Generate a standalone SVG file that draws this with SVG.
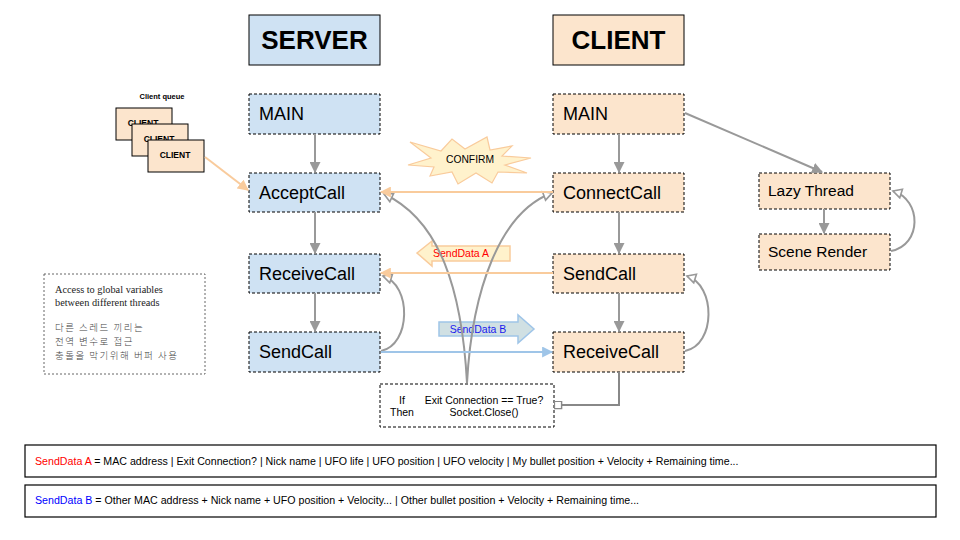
<svg xmlns="http://www.w3.org/2000/svg" width="960" height="540" viewBox="0 0 960 540">
<style>
.t{font-family:"Liberation Sans",Arial,sans-serif;fill:#000}
.title{font-size:26px;font-weight:bold;text-anchor:middle}
.srv{fill:#cfe2f3}
.cli{fill:#fce5cd}
.node{stroke:#000;stroke-width:1;stroke-dasharray:3,2}
.big{font-size:18px}
.mid{font-size:15.5px}
.g{fill:none;stroke:#999;stroke-width:2}
.o{fill:none;stroke:#f9cb9c;stroke-width:2}
.b{fill:none;stroke:#9fc5e8;stroke-width:2}
.small{font-size:10.5px}
</style>
<defs>
<marker id="ag" viewBox="0 0 10 10" refX="9" refY="5" markerWidth="11" markerHeight="11" markerUnits="userSpaceOnUse" orient="auto"><path d="M0,0 L10,5 L0,10 z" fill="#999"/></marker>
<marker id="ao" viewBox="0 0 10 10" refX="9" refY="5" markerWidth="11" markerHeight="11" markerUnits="userSpaceOnUse" orient="auto"><path d="M0,0 L10,5 L0,10 z" fill="#f9cb9c"/></marker>
<marker id="ab" viewBox="0 0 10 10" refX="9" refY="5" markerWidth="11" markerHeight="11" markerUnits="userSpaceOnUse" orient="auto"><path d="M0,0 L10,5 L0,10 z" fill="#9fc5e8"/></marker>
<marker id="aw" viewBox="0 0 12 12" refX="10" refY="6" markerWidth="12" markerHeight="12" markerUnits="userSpaceOnUse" orient="auto"><path d="M1.5,1.5 L10,6 L1.5,10.5 z" fill="#fff" stroke="#999" stroke-width="1.6"/></marker>
<marker id="sq" viewBox="0 0 10 10" refX="5" refY="5" markerWidth="9" markerHeight="9" markerUnits="userSpaceOnUse" orient="auto"><rect x="1" y="1" width="8" height="8" fill="#fff" stroke="#888" stroke-width="1.6"/></marker>
</defs>
<rect width="960" height="540" fill="#fff"/>

<g id="server-title"><rect x="249" y="15" width="131" height="50" class="srv" stroke="#000" stroke-width="1"/><text x="314.5" y="49" class="t title">SERVER</text></g>
<g id="client-title"><rect x="553" y="15" width="131" height="50" class="cli" stroke="#000" stroke-width="1"/><text x="618.5" y="49" class="t title">CLIENT</text></g>

<g id="client-queue">
<text x="162" y="99" class="t" font-size="7.5" font-weight="bold" text-anchor="middle">Client queue</text>
<rect x="116" y="108" width="56" height="32" class="cli" stroke="#000" stroke-width="1"/><text x="143" y="126" class="t" font-size="8.5" font-weight="bold" text-anchor="middle">CLIENT</text>
<rect x="132" y="124" width="56" height="32" class="cli" stroke="#000" stroke-width="1"/><text x="159" y="142" class="t" font-size="8.5" font-weight="bold" text-anchor="middle">CLIENT</text>
<rect x="148" y="140" width="56" height="32" class="cli" stroke="#000" stroke-width="1"/><text x="175" y="158" class="t" font-size="8.5" font-weight="bold" text-anchor="middle">CLIENT</text>
</g>

<g id="s-main"><rect x="249" y="94" width="131" height="40" class="srv node"/><text x="259" y="120" class="t big">MAIN</text></g>
<g id="s-accept"><rect x="249" y="173" width="131" height="39" class="srv node"/><text x="259" y="199" class="t big">AcceptCall</text></g>
<g id="s-receive"><rect x="249" y="254" width="131" height="39" class="srv node"/><text x="259" y="280" class="t big">ReceiveCall</text></g>
<g id="s-send"><rect x="249" y="332" width="131" height="40" class="srv node"/><text x="259" y="358" class="t big">SendCall</text></g>

<g id="c-main"><rect x="553" y="94" width="131" height="40" class="cli node"/><text x="563" y="120" class="t big">MAIN</text></g>
<g id="c-connect"><rect x="553" y="173" width="131" height="39" class="cli node"/><text x="563" y="199" class="t big">ConnectCall</text></g>
<g id="c-send"><rect x="553" y="254" width="131" height="39" class="cli node"/><text x="563" y="280" class="t big">SendCall</text></g>
<g id="c-receive"><rect x="553" y="332" width="131" height="40" class="cli node"/><text x="563" y="358" class="t big">ReceiveCall</text></g>

<g id="lazy"><rect x="759" y="173" width="131" height="36" class="cli node"/><text x="768" y="196" class="t mid">Lazy Thread</text></g>
<g id="scene"><rect x="759" y="234" width="131" height="36" class="cli node"/><text x="768" y="257" class="t mid">Scene Render</text></g>

<g id="confirm">
<path d="M410,142 L441,151 L452,139 L465,149 L487,137 L490,150 L512,146 L502,156 L531,158 L505,165 L527,173 L498,172 L492,183 L476,173 L458,184 L452,172 L430,176 L434,167 L408,165 L431,158 Z" fill="#fff2cc" stroke="#f9cb9c" stroke-width="1.2"/>
<text x="470" y="163" class="t" font-size="10.3" text-anchor="middle">CONFIRM</text>
</g>

<g id="senddata-a">
<path d="M417,253 L432,241 L432,246 L510,246 L510,261 L432,261 L432,266 Z" fill="#fff2cc" stroke="#f9cb9c" stroke-width="1.5"/>
<text x="461" y="257" class="t" font-size="10.5" style="fill:#ff0000" text-anchor="middle">SendData A</text>
</g>
<g id="senddata-b">
<path d="M439,322 L518,322 L518,315 L534,329 L518,343 L518,336 L439,336 Z" fill="#d0e0e3" stroke="#9fc5e8" stroke-width="1.5"/>
<text x="478" y="333" class="t" font-size="10.5" style="fill:#1a1aee" text-anchor="middle">SendData B</text>
</g>

<g id="note">
<rect x="44" y="274" width="161" height="100" fill="#fff" stroke="#666" stroke-width="1" stroke-dasharray="2,2"/>
<g font-family="'Liberation Serif','Times New Roman',serif" font-size="10.3" fill="#222">
<text x="55" y="293">Access to global variables</text>
<text x="55" y="306">between different threads</text>
</g>
<g font-family="'Noto Sans CJK KR',sans-serif" font-size="9.5" fill="#444" font-weight="300" letter-spacing="1.5">
<text x="55" y="331">다른 스레드 끼리는</text>
<text x="55" y="345">전역 변수로 접근</text>
<text x="55" y="359">충돌을 막기위해 버퍼 사용</text>
</g>
</g>

<g id="ifbox">
<rect x="380" y="384" width="174" height="43" fill="#fff" stroke="#000" stroke-width="1" stroke-dasharray="3,2"/>
<text x="402" y="404" class="t small" text-anchor="middle">If</text>
<text x="402" y="416" class="t small" text-anchor="middle">Then</text>
<text x="484" y="404" class="t small" text-anchor="middle">Exit Connection == True?</text>
<text x="484" y="416" class="t small" text-anchor="middle">Socket.Close()</text>
</g>

<g id="connectors">
<line x1="315" y1="134" x2="315" y2="172" class="g" marker-end="url(#ag)"/>
<line x1="315" y1="212" x2="315" y2="253" class="g" marker-end="url(#ag)"/>
<line x1="315" y1="293" x2="315" y2="331" class="g" marker-end="url(#ag)"/>
<line x1="619" y1="134" x2="619" y2="172" class="g" marker-end="url(#ag)"/>
<line x1="619" y1="212" x2="619" y2="253" class="g" marker-end="url(#ag)"/>
<line x1="619" y1="293" x2="619" y2="331" class="g" marker-end="url(#ag)"/>
<line x1="685" y1="113" x2="822" y2="172" class="g" marker-end="url(#ag)"/>
<line x1="824" y1="209" x2="824" y2="233" class="g" marker-end="url(#ag)"/>
<path d="M891,251 C922,245 922,200 893,191" class="g" marker-end="url(#aw)"/>
<path d="M381,351 C411,345 412,285 383,276" class="g" marker-end="url(#aw)"/>
<path d="M685,351 C716,345 716,285 687,276" class="g" marker-end="url(#aw)"/>
<path d="M467,383 C462,290 440,220 384,194" class="g" marker-end="url(#aw)"/>
<path d="M467,383 C472,290 500,212 552,193" class="g" marker-end="url(#aw)"/>
<line x1="205" y1="157" x2="248" y2="190" class="o" marker-end="url(#ao)"/>
<line x1="553" y1="192" x2="381" y2="192" class="o" marker-end="url(#ao)"/>
<line x1="553" y1="273" x2="381" y2="273" class="o" marker-end="url(#ao)"/>
<line x1="381" y1="352" x2="552" y2="352" class="b" marker-end="url(#ab)"/>
<path d="M619,372 L619,405 L558,405" fill="none" stroke="#888" stroke-width="2" marker-end="url(#sq)"/>
</g>

<g id="legend-a">
<rect x="25" y="445" width="911" height="32" fill="#fff" stroke="#000" stroke-width="1.2"/>
<text x="35" y="465" class="t" font-size="10.65"><tspan style="fill:#ff0000">SendData A</tspan> = MAC address | Exit Connection? | Nick name | UFO life | UFO position | UFO velocity | My bullet position + Velocity + Remaining time...</text>
</g>
<g id="legend-b">
<rect x="25" y="485" width="911" height="32" fill="#fff" stroke="#000" stroke-width="1.2"/>
<text x="35" y="504" class="t" font-size="10.65"><tspan style="fill:#0000ff">SendData B</tspan> = Other MAC address + Nick name + UFO position + Velocity... | Other bullet position + Velocity + Remaining time...</text>
</g>
</svg>
